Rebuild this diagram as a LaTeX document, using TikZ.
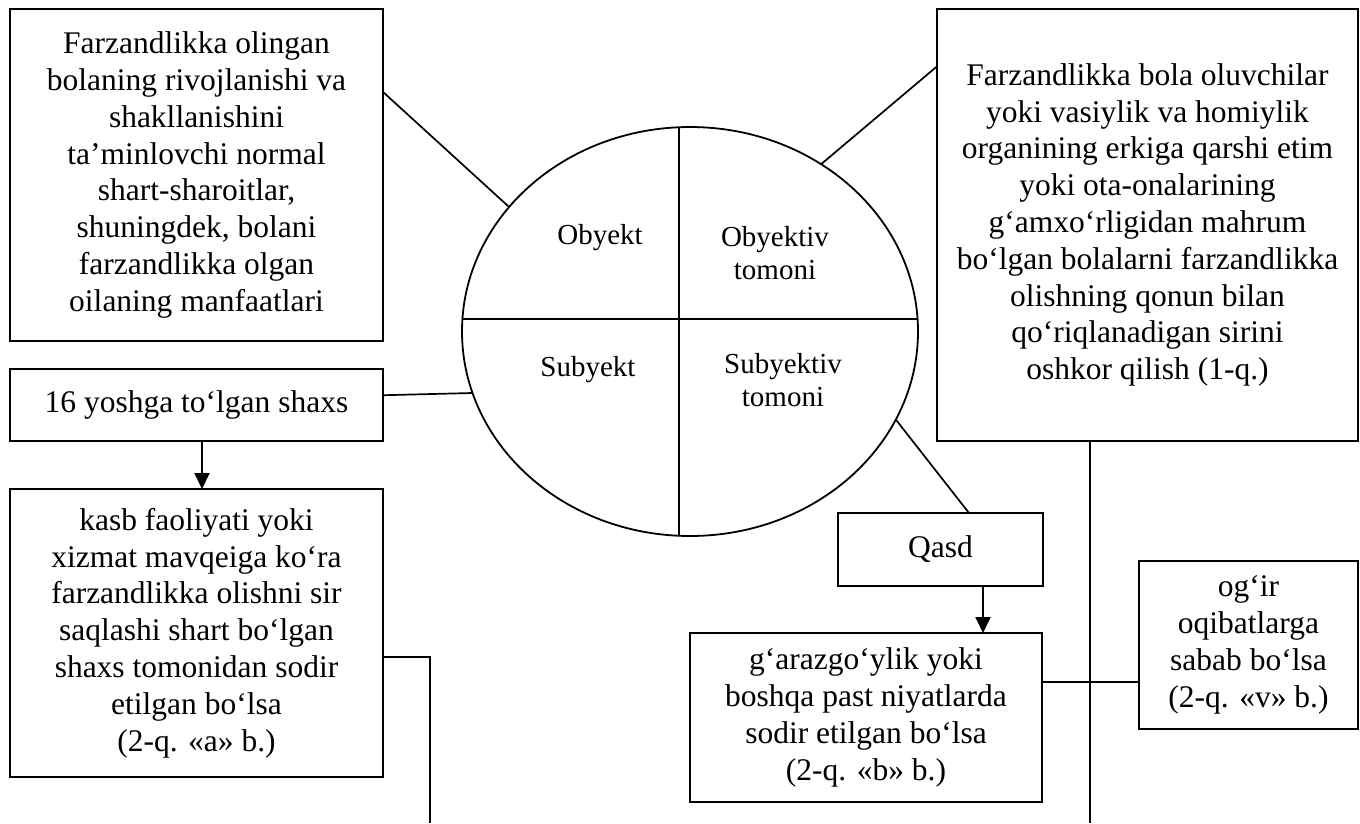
\documentclass[tikz,border=0pt]{standalone}
\usepackage{fontspec}
\setmainfont{Liberation Serif}
\usetikzlibrary{arrows.meta, positioning, shapes.geometric, calc}

\newcommand{\boxfont}{\fontsize{31.5}{36.8}\selectfont}
\newcommand{\ovalfont}{\fontsize{29}{33}\selectfont}

\begin{document}
\begin{tikzpicture}[
  x=1pt, y=-1pt,
  blk/.style={draw, line width=2pt, inner sep=0pt, outer sep=0pt,
              align=center, font=\boxfont},
  lnk/.style={line width=1.7pt},
  arr/.style={-{Triangle[length=16pt,width=15pt]}, line width=2pt}
]
\useasboundingbox (0,0) rectangle (1360,823);

% central oval
\node[draw, ellipse, line width=1.8pt, inner sep=0pt, outer sep=0pt,
      minimum width=456pt, minimum height=409pt] (core) at (690,331.5) {};
\draw[lnk] ($(core.center)+(92.76:228pt and 204.5pt)$) -- ($(core.center)+(267.24:228pt and 204.5pt)$);
\draw[lnk] ($(core.center)+(176.5:228pt and 204.5pt)$) -- ($(core.center)+(3.5:228pt and 204.5pt)$);
\node[font=\ovalfont] (lobj) at (600,238) {Obyekt};
\node[font=\ovalfont, align=center] (lobjside) at (775,253) {Obyektiv\\tomoni};
\node[font=\ovalfont] (lsubj) at (588,370) {Subyekt};
\node[font=\ovalfont, align=center] (lsubjside) at (783,380) {Subyektiv\\tomoni};

% left column
\node[blk, minimum width=373pt, minimum height=332pt] (obyekt) at (196.5,175)
  {Farzandlikka olingan\\bolaning rivojlanishi va\\shakllanishini\\ta’minlovchi normal\\shart-sharoitlar,\\shuningdek, bolani\\farzandlikka olgan\\oilaning manfaatlari};
\node[blk, minimum width=373pt, minimum height=72pt] (shaxs) at (196.5,405)
  {16 yoshga to‘lgan shaxs};
\node[blk, minimum width=373pt, minimum height=288pt] (kasb) at (196.5,633)
  {kasb faoliyati yoki\\xizmat mavqeiga ko‘ra\\farzandlikka olishni sir\\saqlashi shart bo‘lgan\\shaxs tomonidan sodir\\etilgan bo‘lsa\\(2-q. «a» b.)};

% right side
\node[blk, minimum width=421pt, minimum height=432pt] (harakat) at (1147.5,225)
  {Farzandlikka bola oluvchilar\\yoki vasiylik va homiylik\\organining erkiga qarshi etim\\yoki ota-onalarining\\g‘amxo‘rligidan mahrum\\bo‘lgan bolalarni farzandlikka\\olishning qonun bilan\\qo‘riqlanadigan sirini\\oshkor qilish (1-q.)};
\node[blk, minimum width=205pt, minimum height=73pt] (qasd) at (940.5,549.5) {Qasd};
\node[blk, minimum width=352pt, minimum height=169pt] (garaz) at (866,717.5)
  {g‘arazgo‘ylik yoki\\boshqa past niyatlarda\\sodir etilgan bo‘lsa\\(2-q. «b» b.)};
\node[blk, minimum width=219pt, minimum height=168pt] (ogir) at (1248.5,645)
  {og‘ir\\oqibatlarga\\sabab bo‘lsa\\(2-q. «v» b.)};

% free ends at the bottom
\coordinate (kasbend) at (430,823);
\coordinate (harakatend) at (1090,823);

% connectors
\draw[lnk] (obyekt.24.76) -- ($(core.center)+(142.5:228pt and 204.5pt)$);
\draw[lnk] (harakat.143.3) -- ($(core.center)+(54.9:228pt and 204.5pt)$);
\draw[lnk] (shaxs.3.7) -- ($(core.center)+(197.5:228pt and 204.5pt)$);
\draw[lnk] ($(core.center)+(334.5:228pt and 204.5pt)$) -- ([xshift=28.5pt]qasd.north);
\draw[arr] ([xshift=5.5pt]shaxs.south) -- ([xshift=5.5pt]kasb.north);
\draw[arr] ([xshift=42.5pt]qasd.south) -- ([xshift=117pt]garaz.north);
\draw[lnk] ([yshift=-24pt]kasb.east) -| (kasbend);
\draw[lnk] ([xshift=-57.5pt]harakat.south) -- (harakatend);
\draw[lnk] ([yshift=35.5pt]garaz.east) -- ([yshift=-37pt]ogir.west);
\end{tikzpicture}
\end{document}
